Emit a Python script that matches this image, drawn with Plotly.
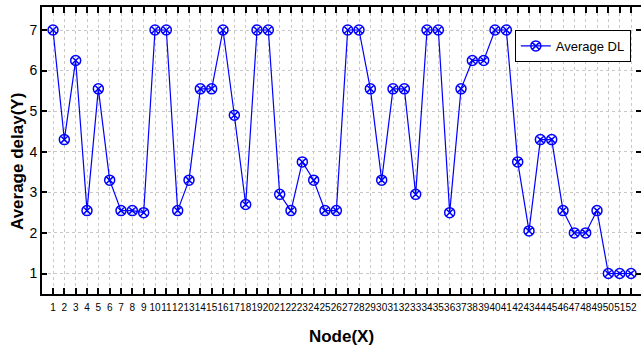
import plotly.graph_objects as go

nodes = list(range(1, 53))
avg_dl = [7, 4.3, 6.25, 2.55, 5.55, 3.3, 2.55, 2.55, 2.5, 7,
          7, 2.55, 3.3, 5.55, 5.55, 7, 4.9, 2.7, 7, 7,
          2.95, 2.55, 3.75, 3.3, 2.55, 2.55, 7, 7, 5.55, 3.3,
          5.55, 5.55, 2.95, 7, 7, 2.5, 5.55, 6.25, 6.25, 7,
          7, 3.75, 2.05, 4.3, 4.3, 2.55, 2.0, 2.0, 2.55, 1,
          1, 1]
y_ticks = [1, 2, 3, 4, 5, 6, 7]
x_labels = [str(n) for n in nodes]

FONT = "Liberation Sans, Arial, sans-serif"
YR = [0.495, 7.567]

fig = go.Figure()
fig.add_trace(go.Scatter(
    x=nodes, y=avg_dl, mode="lines+markers", name="Average DL",
    line=dict(color="#0000FF", width=1.2),
    marker=dict(symbol="circle-x-open", size=10, color="#0000FF",
                line=dict(width=1.5, color="#0000FF")),
))
fig.add_trace(go.Scatter(x=[], y=[], yaxis="y2", showlegend=False, hoverinfo="skip"))

fig.update_layout(
    width=641, height=348,
    margin=dict(l=42, r=0, t=7, b=54),
    paper_bgcolor="white", plot_bgcolor="white",
    font=dict(family=FONT, color="black"),
    showlegend=True,
    legend=dict(x=0.983, y=0.92, xanchor="right", yanchor="top",
                bordercolor="black", borderwidth=1, bgcolor="white",
                font=dict(size=13, family=FONT), itemwidth=30,
                tracegroupgap=0),
    xaxis=dict(
        range=[0.0294, 52.88], tickmode="array", tickvals=nodes, ticktext=x_labels,
        tickangle=0, ticks="inside", ticklen=6, tickwidth=1.5, tickcolor="black",
        showline=True, linecolor="black", linewidth=2, mirror="ticks",
        showgrid=True, gridcolor="#c8c8c8", griddash="dot", gridwidth=1,
        zeroline=False, tickfont=dict(size=10, family=FONT),
        ticklabelstandoff=3,
        title=dict(text="<b>Node(X)</b>", font=dict(size=17, family=FONT), standoff=18),
    ),
    yaxis=dict(
        range=YR, tickmode="array", tickvals=y_ticks,
        ticks="inside", ticklen=5, tickwidth=1.5, tickcolor="black",
        showline=True, linecolor="black", linewidth=2, mirror=False,
        showgrid=True, gridcolor="#c8c8c8", griddash="dot", gridwidth=1,
        zeroline=False, tickfont=dict(size=14, family=FONT),
    ),
    yaxis2=dict(
        range=YR, overlaying="y", side="right", tickmode="array", tickvals=y_ticks,
        ticks="inside", ticklen=5, tickwidth=1.5, tickcolor="black",
        showticklabels=False, showline=False, showgrid=False, zeroline=False,
    ),
    annotations=[dict(
        text="<b>Average delay(Y)</b>", textangle=-90, showarrow=False,
        xref="paper", yref="paper", x=-0.040, y=0.46,
        xanchor="center", yanchor="middle",
        font=dict(size=17, family=FONT, color="black"),
    )],
)

fig.write_html("out.html")
